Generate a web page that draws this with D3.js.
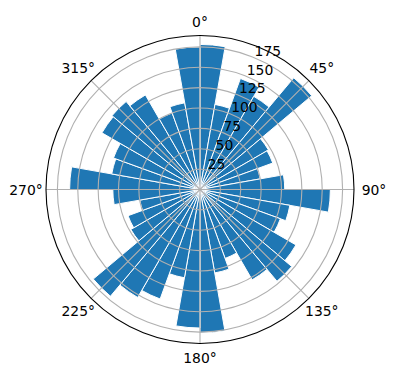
<!DOCTYPE html>
<html>
<head>
<meta charset="utf-8">
<script src="https://cdn.jsdelivr.net/npm/d3@7"></script>
<style>
  body { margin: 0; background: #fff; }
  text { font-family: "DejaVu Sans", sans-serif; font-size: 13.9px; fill: #000; }
</style>
</head>
<body>
<div id="chart"></div>
<script>
// bar start direction in degrees (clockwise from north) and bar length
const directions = [0, 10, 20, 30, 40, 50, 60, 70, 80, 90, 100, 110,
  120, 130, 140, 150, 160, 170, 180, 190, 200, 210, 220, 230,
  240, 250, 260, 270, 280, 290, 300, 310, 320, 330, 340, 350]
const heights = [178, 106, 145, 132, 179, 97, 95, 75, 104, 160, 112, 105,
  136, 147, 128, 90, 104, 176, 170, 110, 143, 153, 171, 98,
  94, 75, 107, 160, 110, 113, 139, 141, 134, 100, 108, 175]

const thetaTicks = [0, 45, 90, 135, 180, 225, 270, 315]
const rTicks = [25, 50, 75, 100, 125, 150, 175]

const WIDTH = 396
const HEIGHT = 380
const CX = 200, CY = 189.5, RADIUS = 154
const RMAX = 189
const BAR_WIDTH = 10
const RLABEL_ANGLE = 22.5

const svg = d3.select("#chart")
  .append("svg")
    .attr("width", WIDTH)
    .attr("height", HEIGHT)

const g = svg.append("g")
  .attr("transform", `translate(${CX}, ${CY})`)

const r = d3.scaleLinear().domain([0, RMAX]).range([0, RADIUS])
const theta = d3.scaleLinear().domain([0, 360]).range([0, 2 * Math.PI])

const data = directions.map((a, i) => ({a: a, h: heights[i]}))

const arc = d3.arc()
  .innerRadius(0)
  .outerRadius(d => r(d.h))
  .startAngle(d => theta(d.a))
  .endAngle(d => theta(d.a + BAR_WIDTH))

// bars
g.selectAll("path.bar")
  .data(data)
  .enter().append("path")
    .attr("class", "bar")
    .attr("d", arc)
    .attr("fill", "#1f77b4")
    .attr("stroke", "#fff")
    .attr("stroke-width", 1)
    .attr("stroke-linejoin", "miter")

// grid on top of bars, like matplotlib polar
g.selectAll("circle.ring")
  .data(rTicks)
  .enter().append("circle")
    .attr("class", "ring")
    .attr("r", d => r(d))
    .attr("fill", "none")
    .attr("stroke", "#b0b0b0")
    .attr("stroke-width", 1.1)

g.selectAll("line.spoke")
  .data(thetaTicks)
  .enter().append("line")
    .attr("class", "spoke")
    .attr("x1", 0).attr("y1", 0)
    .attr("x2", d => RADIUS * Math.sin(theta(d)))
    .attr("y2", d => -RADIUS * Math.cos(theta(d)))
    .attr("stroke", "#b0b0b0")
    .attr("stroke-width", 1.1)

// outer frame
g.append("circle")
  .attr("r", RADIUS)
  .attr("fill", "none")
  .attr("stroke", "#000")
  .attr("stroke-width", 1.1)

// radial tick labels
const ra = theta(RLABEL_ANGLE)
g.selectAll("text.rlabel")
  .data(rTicks)
  .enter().append("text")
    .attr("class", "rlabel")
    .attr("x", d => r(d) * Math.sin(ra))
    .attr("y", d => -r(d) * Math.cos(ra) - 2)
    .attr("text-anchor", "start")
    .text(d => d)

// angle labels
g.selectAll("text.tlabel")
  .data(thetaTicks)
  .enter().append("text")
    .attr("class", "tlabel")
    .attr("x", d => (RADIUS + 14 + 6 * Math.abs(Math.sin(theta(d)))) * Math.sin(theta(d)))
    .attr("y", d => -(RADIUS + 14 + 6 * Math.abs(Math.sin(theta(d)))) * Math.cos(theta(d)))
    .attr("text-anchor", "middle")
    .attr("dominant-baseline", "central")
    .text(d => d + "°")
</script>
</body>
</html>
